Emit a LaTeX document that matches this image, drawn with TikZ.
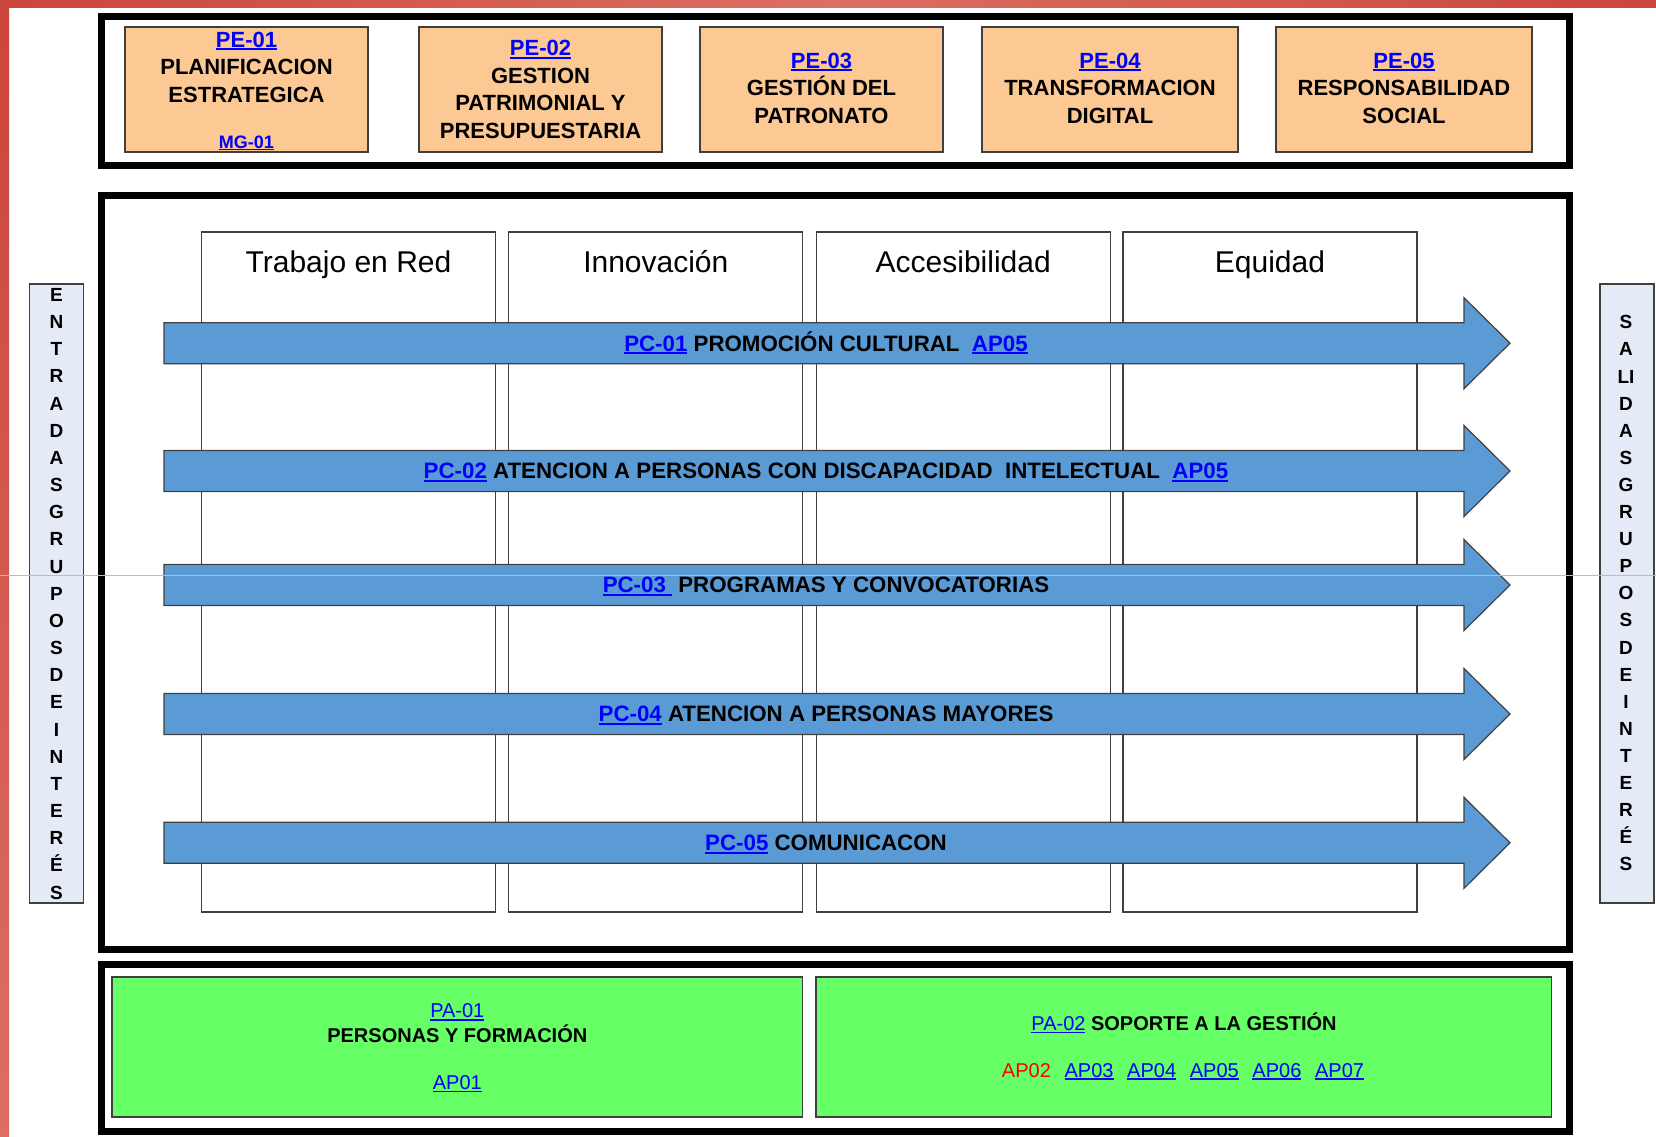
\documentclass[tikz,border=0pt]{standalone}
\usepackage{fontspec}
\setmainfont{Liberation Sans}
\usetikzlibrary{calc}
\definecolor{peach}{HTML}{FCC894}
\definecolor{arrowblue}{HTML}{5B9BD5}
\definecolor{lgreen}{HTML}{66FF66}
\definecolor{lnkblue}{HTML}{0000FF}
\definecolor{sidefill}{HTML}{E4EBF6}
\definecolor{redA}{HTML}{CB453C}
\definecolor{redB}{HTML}{DC6E63}
\definecolor{edge}{HTML}{404040}
\definecolor{guide}{HTML}{E9A9A9}
\newcommand\lnk[1]{{\color{lnkblue}\setbox0\hbox{#1}\rlap{\rule[-0.13em]{\wd0}{0.075em}}\box0}}
\begin{document}
\begin{tikzpicture}[x=1pt,y=-1pt,
  box/.style={rectangle, inner sep=0pt, outer sep=0pt},
  frame/.style={box, draw=black, line width=7pt},
  pebox/.style={box, draw=edge, line width=1.5pt, fill=peach, minimum height=125pt},
  colbox/.style={box, draw=edge, line width=1.3pt, fill=white, minimum width=294pt, minimum height=680pt},
  sidebox/.style={box, draw=edge, line width=1.3pt, fill=sidefill, minimum width=54pt, minimum height=619pt},
  pabox/.style={box, draw=edge, line width=1.3pt, fill=lgreen, minimum height=140pt},
  procarrow/.style={draw=edge, line width=1.2pt, fill=arrowblue, line join=miter},
  petext/.style={align=center, font=\fontsize{22}{27.5}\selectfont\bfseries, inner sep=0pt},
  arrtext/.style={anchor=base, font=\fontsize{22.3}{27}\selectfont\bfseries, inner sep=0pt},
  hdr/.style={anchor=base, font=\fontsize{30}{36}\selectfont, inner sep=0pt},
  letter/.style={font=\fontsize{19}{19}\selectfont\bfseries, inner sep=0pt, text height=13.6pt, text depth=0pt},
  patext/.style={anchor=base, font=\fontsize{20}{24}\selectfont\bfseries, inner sep=0pt},
  paplain/.style={anchor=base, font=\fontsize{20}{24}\selectfont, inner sep=0pt},
]
\useasboundingbox (0,0) rectangle (1656,1136);
\fill[white] (0,0) rectangle (1656,1136);

% frames
\node[frame, minimum width=1468pt, minimum height=149pt] (topframe) at (835.5,91) {};
\node[frame, minimum width=1468pt, minimum height=754pt] (midframe) at (835.5,572.5) {};
\node[frame, minimum width=1468pt, minimum height=167pt] (botframe) at (835.5,1048) {};

% strategic processes
\node[pebox, minimum width=243pt] (pe1) at (246.5,89.5) {};
\node[pebox, minimum width=243pt] (pe2) at (540.5,89.5) {};
\node[pebox, minimum width=243pt] (pe3) at (821.5,89.5) {};
\node[pebox, minimum width=256pt] (pe4) at (1110,89.5) {};
\node[pebox, minimum width=256pt] (pe5) at (1404,89.5) {};
\node[petext] (pe1t) at (246.5,67) {\lnk{PE-01}\\PLANIFICACION\\ESTRATEGICA};
\node[font=\fontsize{18}{20}\selectfont\bfseries, inner sep=0pt, anchor=base] (mg01) at (246.5,148) {\lnk{MG-01}};
\node[petext] (pe2t) at (540.5,89.5) {\lnk{PE-02}\\GESTION\\PATRIMONIAL Y\\PRESUPUESTARIA};
\node[petext] (pe3t) at (821.5,88) {\lnk{PE-03}\\GESTIÓN DEL\\PATRONATO};
\node[petext] (pe4t) at (1110,88) {\lnk{PE-04}\\TRANSFORMACION\\DIGITAL};
\node[petext] (pe5t) at (1404,88) {\lnk{PE-05}\\RESPONSABILIDAD\\SOCIAL};

% value columns
\node[colbox] (col1) at (348.5,572) {};
\node[colbox] (col2) at (655.8,572) {};
\node[colbox] (col3) at (963.2,572) {};
\node[colbox] (col4) at (1270,572) {};
\node[hdr] (h1) at (348.5,272.5) {Trabajo en Red};
\node[hdr] (h2) at (655.8,272.5) {Innovación};
\node[hdr] (h3) at (963.2,272.5) {Accesibilidad};
\node[hdr] (h4) at (1270,272.5) {Equidad};

% core process arrows
\foreach \c in {343.2,471,585,714,842.8}{
  \draw[procarrow] (164,\c-20.5) -- (1464,\c-20.5) -- (1464,\c-45.5) -- (1510,\c)
     -- (1464,\c+45.5) -- (1464,\c+20.5) -- (164,\c+20.5) -- cycle;
}
\node[arrtext] (pc1) at (826,351.1) {\lnk{PC-01} PROMOCIÓN CULTURAL\ \ \lnk{AP05}};
\node[arrtext] (pc2) at (826,478.9) {\lnk{PC-02} ATENCION A PERSONAS CON DISCAPACIDAD\ \ INTELECTUAL\ \ \lnk{AP05}};
\node[arrtext] (pc3) at (826,592.9) {\lnk{PC-03\ }\ PROGRAMAS\ Y CONVOCATORIAS};
\node[arrtext] (pc4) at (826,721.9) {\lnk{PC-04} ATENCION A PERSONAS MAYORES};
\node[arrtext] (pc5) at (826,850.7) {\lnk{PC-05} COMUNICACON};

% side boxes
\node[sidebox] (entradas) at (56.5,593.5) {};
\node[sidebox] (salidas) at (1627,593.5) {};
\foreach \l [count=\i from 0] in {E,N,T,R,A,D,A,S,G,R,U,P,O,S,D,E,I,N,T,E,R,É,S}
  \node[letter] (ent\i) at (56.5,294.6+27.17*\i) {\l};
\foreach \l [count=\i from 0] in {S,A,LI,D,A,S,G,R,U,P,O,S,D,E,I,N,T,E,R,É,S}
  \node[letter] (sal\i) at (1626,322+27.1*\i) {\l};

% support processes
\node[pabox, minimum width=690.6pt] (pa1) at (457.3,1047) {};
\node[pabox, minimum width=735.5pt] (pa2) at (1183.75,1047) {};
\node[paplain] (pa1c) at (457.3,1017.9) {\lnk{PA-01}};
\node[patext] (pa1n) at (457.3,1042.2) {PERSONAS Y FORMACIÓN};
\node[paplain] (ap01) at (457.3,1089.7) {\lnk{AP01}};
\node[patext] (pa2t) at (1184,1030.6) {\lnk{\mdseries PA-02} SOPORTE A LA GESTIÓN};
\node[paplain] (aprow) at (1183,1077.2) {\textcolor{red}{AP02}\hspace{13.7pt}\lnk{AP03}\hspace{13.7pt}\lnk{AP04}\hspace{13.7pt}\lnk{AP05}\hspace{13.7pt}\lnk{AP06}\hspace{13.7pt}\lnk{AP07}};

% slide border
\shade[top color=redA, bottom color=redB] (0,0) rectangle (9,1136);
\shade[left color=redA, right color=redA, middle color=redB] (0,0) rectangle (1656,7);
\draw[guide, line width=0.9pt] (0,575.5) -- (1656,575.5);
\end{tikzpicture}
\end{document}
